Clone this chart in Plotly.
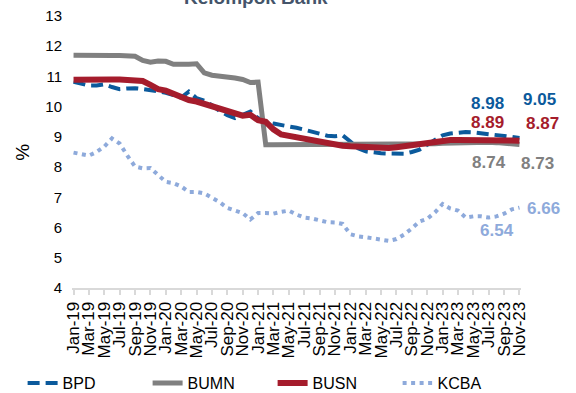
import plotly.graph_objects as go

years = ["19", "20", "21", "22", "23"]
mon = ["Jan", "Feb", "Mar", "Apr", "May", "Jun", "Jul", "Aug", "Sep", "Oct", "Nov", "Dec"]
months = [f"{m}-{y}" for y in years for m in mon][:59]  # Jan-19 .. Nov-23
tick_labels = months[::2]

bpd = [10.82, 10.76, 10.70, 10.70, 10.74, 10.65, 10.58, 10.60, 10.61, 10.58,
       10.56, 10.51, 10.46, 10.38, 10.30, 10.50, 10.28, 10.20, 10.05, 9.86,
       9.72, 9.62, 9.72, 9.84, 9.62, 9.50, 9.44, 9.40, 9.35, 9.30,
       9.24, 9.17, 9.12, 9.04, 9.02, 9.05, 8.85, 8.62, 8.52, 8.48,
       8.46, 8.45, 8.45, 8.44, 8.50, 8.58, 8.74, 8.90, 9.05, 9.11,
       9.14, 9.16, 9.15, 9.12, 9.10, 9.08, 9.06, 9.00, 8.96]

bumn = [11.70, 11.69, 11.69, 11.69, 11.69, 11.69, 11.69, 11.68, 11.67, 11.53,
        11.47, 11.51, 11.50, 11.40, 11.39, 11.40, 11.42, 11.12, 11.04, 11.02,
        10.99, 10.95, 10.90, 10.80, 10.81, 8.74, 8.74, 8.74, 8.74, 8.74,
        8.74, 8.74, 8.74, 8.74, 8.74, 8.74, 8.74, 8.74, 8.74, 8.74,
        8.74, 8.74, 8.74, 8.74, 8.74, 8.74, 8.75, 8.77, 8.79, 8.80,
        8.81, 8.82, 8.82, 8.82, 8.82, 8.81, 8.80, 8.78, 8.75]

busn = [10.89, 10.90, 10.90, 10.92, 10.91, 10.90, 10.90, 10.88, 10.89, 10.85,
        10.72, 10.58, 10.53, 10.42, 10.28, 10.22, 10.17, 10.10, 10.03, 9.93,
        9.85, 9.77, 9.70, 9.73, 9.55, 9.50, 9.25, 9.08, 9.03, 8.98,
        8.95, 8.90, 8.84, 8.78, 8.74, 8.71, 8.69, 8.67, 8.65, 8.63,
        8.62, 8.63, 8.66, 8.70, 8.74, 8.78, 8.83, 8.86, 8.89, 8.90,
        8.90, 8.90, 8.91, 8.92, 8.92, 8.90, 8.89, 8.88, 8.87]

kcba = [8.48, 8.43, 8.38, 8.50, 8.68, 8.95, 8.78, 8.38, 8.02, 7.96,
        7.97, 7.74, 7.51, 7.47, 7.36, 7.18, 7.18, 7.13, 7.00, 6.84,
        6.65, 6.56, 6.48, 6.27, 6.48, 6.48, 6.46, 6.52, 6.56, 6.43,
        6.33, 6.30, 6.25, 6.18, 6.17, 6.12, 5.78, 5.71, 5.68, 5.64,
        5.58, 5.56, 5.62, 5.77, 5.97, 6.20, 6.29, 6.50, 6.78, 6.63,
        6.56, 6.33, 6.37, 6.37, 6.33, 6.37, 6.46, 6.60, 6.66]

label_texts = ["8.98", "9.05", "8.89", "8.87", "8.74", "8.73", "6.54", "6.66"]
label_colors = ["#0b5a9c", "#0b5a9c", "#a51c2c", "#a51c2c", "#808080", "#808080", "#8eaadb", "#8eaadb"]
label_x = [0.926, 1.042, 0.926, 1.047, 0.929, 1.036, 0.947, 1.049]
label_y = [0.680, 0.694, 0.610, 0.603, 0.460, 0.456, 0.213, 0.294]

FONT = "Liberation Sans, Arial, sans-serif"

fig = go.Figure()
fig.add_trace(go.Scatter(x=months, y=bpd, name="BPD", mode="lines",
                         line=dict(color="#0b5a9c", width=4, dash="12px,6px")))
fig.add_trace(go.Scatter(x=months, y=bumn, name="BUMN", mode="lines",
                         line=dict(color="#808080", width=5)))
fig.add_trace(go.Scatter(x=months, y=busn, name="BUSN", mode="lines",
                         line=dict(color="#a51c2c", width=6)))
fig.add_trace(go.Scatter(x=months, y=kcba, name="KCBA", mode="lines",
                         line=dict(color="#8eaadb", width=4, dash="4px,4.5px")))

anns = [dict(text=f"<b>{t}</b>", x=x, y=y, xref="paper", yref="paper",
             showarrow=False, font=dict(size=17, color=c, family=FONT),
             xanchor="center", yanchor="middle")
        for t, c, x, y in zip(label_texts, label_colors, label_x, label_y)]
anns.append(dict(text="<b>Kelompok Bank</b>", x=0.41, y=1.021, xref="paper", yref="paper",
                 showarrow=False, font=dict(size=19, color="#44546a", family=FONT),
                 xanchor="center", yanchor="bottom"))
anns.append(dict(text="%", x=-0.112, y=0.50, xref="paper", yref="paper", textangle=-90,
                 showarrow=False, font=dict(size=19, color="black", family=FONT),
                 xanchor="center", yanchor="middle"))

fig.update_layout(
    width=576, height=393,
    margin=dict(l=72, r=55, t=16, b=105, autoexpand=False),
    paper_bgcolor="white", plot_bgcolor="white",
    font=dict(family=FONT, color="black"),
    showlegend=True,
    legend=dict(orientation="h", x=-0.11, xanchor="left", y=-0.35, yanchor="middle",
                font=dict(size=16, color="black", family=FONT), entrywidth=80,
                bgcolor="rgba(0,0,0,0)"),
    annotations=anns,
    xaxis=dict(type="category", range=[-0.2, 58.2], tickmode="array",
               tickvals=tick_labels, ticktext=tick_labels, tickangle=-90,
               tickfont=dict(size=17, family=FONT, color="black"), automargin=False,
               showgrid=False, showline=True, linecolor="#d9d9d9", linewidth=2,
               ticks="outside", ticklen=5, tickcolor="#d9d9d9", tickwidth=1.5),
    yaxis=dict(range=[4, 13], dtick=1, showgrid=False, zeroline=False, showline=False,
               automargin=False, ticklabelstandoff=9,
               tickfont=dict(size=15, family=FONT, color="black")),
)

fig.write_html("out.html", config={"displayModeBar": False},
               post_script="document.body.style.margin='0';document.body.style.padding='0';")
